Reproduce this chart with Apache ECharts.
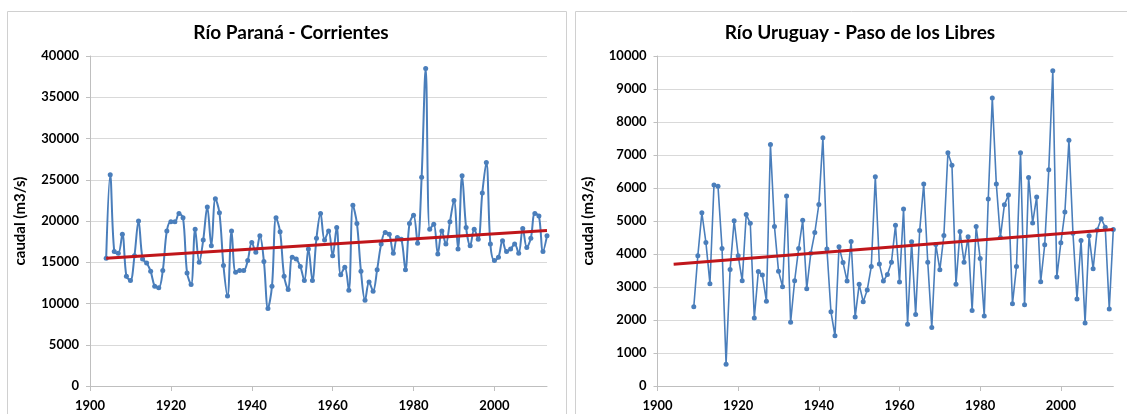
<!DOCTYPE html>
<html>
<head>
<meta charset="utf-8">
<script src="https://cdn.jsdelivr.net/npm/echarts@6/dist/echarts.min.js"></script>
<style>
html,body{margin:0;padding:0;background:#fff;}
#c{width:1127px;height:414px;}
</style>
</head>
<body>
<div id="c"></div>
<script>
// ---- Data ----
const titleLeft = 'Río Paraná - Corrientes';
const titleRight = 'Río Uruguay - Paso de los Libres';
const yAxisName = 'caudal (m3/s)';
const xTickLabels = [1900, 1920, 1940, 1960, 1980, 2000];
const leftYTicks = [0, 5000, 10000, 15000, 20000, 25000, 30000, 35000, 40000];
const rightYTicks = [0, 1000, 2000, 3000, 4000, 5000, 6000, 7000, 8000, 9000, 10000];

const leftStartYear = 1904;
const leftValues = [
  15500, 25600, 16300, 16100, 18400, 13300, 12800, 15800, 20000, 15400, // 1904-1913
  14900, 13900, 12100, 11900, 14000, 18800, 19900, 19900, 20900, 20400, // 1914-1923
  13700, 12300, 19000, 15000, 17700, 21700, 17000, 22700, 21000, 14600, // 1924-1933
  10900, 18800, 13800, 14000, 14000, 15200, 17400, 16200, 18200, 15100, // 1934-1943
  9400, 12100, 20400, 18700, 13300, 11700, 15600, 15400, 14500, 12800,  // 1944-1953
  16600, 12800, 17900, 20900, 17700, 18800, 15800, 19200, 13500, 14400, // 1954-1963
  11600, 21900, 19700, 13900, 10400, 12600, 11500, 14100, 17200, 18600, // 1964-1973
  18400, 16100, 18000, 17800, 14100, 19700, 20700, 17300, 25300, 38500, // 1974-1983
  19000, 19600, 16000, 18800, 17200, 19900, 22500, 16600, 25500, 19200, // 1984-1993
  17000, 19000, 17800, 23400, 27100, 17200, 15200, 15600, 17600, 16300, // 1994-2003
  16600, 17200, 16100, 19100, 16800, 17900, 20900, 20600, 16300, 18200  // 2004-2013
];
const leftTrendYears = [1904, 2013];
const leftTrendValues = [15480, 18850];

const rightStartYear = 1909;
const rightValues = [
  2400, 3950, 5250, 4350, 3100, 6090, 6050, 4170, 660, 3530,   // 1909-1918
  5010, 3950, 3190, 5200, 4930, 2060, 3470, 3360, 2570, 7320,  // 1919-1928
  4830, 3480, 3010, 5760, 1930, 3190, 4170, 5020, 2950, 4020,  // 1929-1938
  4650, 5500, 7520, 4150, 2250, 1520, 4220, 3740, 3180, 4380,  // 1939-1948
  2090, 3080, 2550, 2910, 3620, 6340, 3700, 3180, 3380, 3750,  // 1949-1958
  4870, 3150, 5360, 1870, 4370, 2170, 4710, 6120, 3750, 1770,  // 1959-1968
  4290, 3520, 4560, 7070, 6690, 3080, 4680, 3750, 4520, 2290,  // 1969-1978
  4830, 3860, 2120, 5670, 8730, 6120, 4500, 5490, 5790, 2490,  // 1979-1988
  3620, 7070, 2460, 6320, 4940, 5730, 3160, 4280, 6550, 9550,  // 1989-1998
  3300, 4340, 5270, 7450, 4630, 2640, 4410, 1910, 4550, 3550,  // 1999-2008
  4730, 5070, 4810, 2330, 4740                                  // 2009-2013
];
const rightTrendYears = [1904, 2013];
const rightTrendValues = [3690, 4740];

// ---- Build ----
const toPairs = (start, vals) => vals.map((v, i) => [start + i, v]);
const zip = (xs, ys) => xs.map((x, i) => [x, ys[i]]);

const FONT = 'Lato, "Liberation Sans", sans-serif';
const lineColor = '#4a7ebb';
const trendColor = '#c0161b';
const plain = v => String(v);

function xAxis(gridIndex) {
  return {
    type: 'value', gridIndex, min: 1900, max: 2013,
    axisLine: { show: true, lineStyle: { color: '#bfbfbf', width: 1 } },
    axisTick: { show: true, length: 5, lineStyle: { color: '#bfbfbf' }, customValues: xTickLabels },
    axisLabel: { customValues: xTickLabels, formatter: plain, fontFamily: FONT, fontWeight: 'bold', fontSize: 13, color: '#000', margin: 13 },
    splitLine: { show: false }
  };
}
function yAxis(gridIndex, max, interval) {
  return {
    type: 'value', gridIndex, min: 0, max, interval,
    name: yAxisName, nameLocation: 'middle', nameGap: 62, nameRotate: 90,
    nameTextStyle: { fontFamily: FONT, fontWeight: 'bold', fontSize: 15, color: '#000' },
    axisLine: { show: true, lineStyle: { color: '#bfbfbf', width: 1 } },
    axisTick: { show: true, length: 4, inside: false, lineStyle: { color: '#bfbfbf' } },
    axisLabel: { formatter: plain, fontFamily: FONT, fontWeight: 'bold', fontSize: 13, color: '#000', margin: 11 },
    splitLine: { show: true, lineStyle: { color: '#d9d9d9', width: 1 } }
  };
}

const chart = echarts.init(document.getElementById('c'), null, { renderer: 'canvas' });
chart.setOption({
  animation: false,
  backgroundColor: '#fff',
  graphic: [
    { type: 'rect', shape: { x: 7.5, y: 11.5, width: 559, height: 430 }, style: { fill: 'none', stroke: '#d0d0d0', lineWidth: 1 }, silent: true },
    { type: 'rect', shape: { x: 575.5, y: 11.5, width: 600, height: 430 }, style: { fill: 'none', stroke: '#d0d0d0', lineWidth: 1 }, silent: true }
  ],
  title: [
    { text: titleLeft, left: 286, top: 18, textAlign: 'center',
      textStyle: { fontFamily: FONT, fontWeight: 'bold', fontSize: 19, color: '#000' } },
    { text: titleRight, left: 855, top: 18, textAlign: 'center',
      textStyle: { fontFamily: FONT, fontWeight: 'bold', fontSize: 19, color: '#000' } }
  ],
  grid: [
    { left: 90, right: 1127 - 547, top: 56, bottom: 28 },
    { left: 657.5, right: 1127 - 1113.3, top: 56, bottom: 28 }
  ],
  xAxis: [xAxis(0), xAxis(1)],
  yAxis: [yAxis(0, 40000, 5000), yAxis(1, 10000, 1000)],
  series: [
    { type: 'line', xAxisIndex: 0, yAxisIndex: 0, data: toPairs(leftStartYear, leftValues),
      smooth: 0.35, symbol: 'circle', symbolSize: 5, showSymbol: true,
      lineStyle: { color: lineColor, width: 2 }, itemStyle: { color: lineColor }, z: 2 },
    { type: 'line', xAxisIndex: 0, yAxisIndex: 0, data: zip(leftTrendYears, leftTrendValues),
      symbol: 'none', lineStyle: { color: trendColor, width: 3 }, z: 3 },
    { type: 'line', xAxisIndex: 1, yAxisIndex: 1, data: toPairs(rightStartYear, rightValues),
      smooth: false, symbol: 'circle', symbolSize: 5, showSymbol: true,
      lineStyle: { color: lineColor, width: 1.6 }, itemStyle: { color: lineColor }, z: 2 },
    { type: 'line', xAxisIndex: 1, yAxisIndex: 1, data: zip(rightTrendYears, rightTrendValues),
      symbol: 'none', lineStyle: { color: trendColor, width: 3 }, z: 3 }
  ]
});
</script>
</body>
</html>
